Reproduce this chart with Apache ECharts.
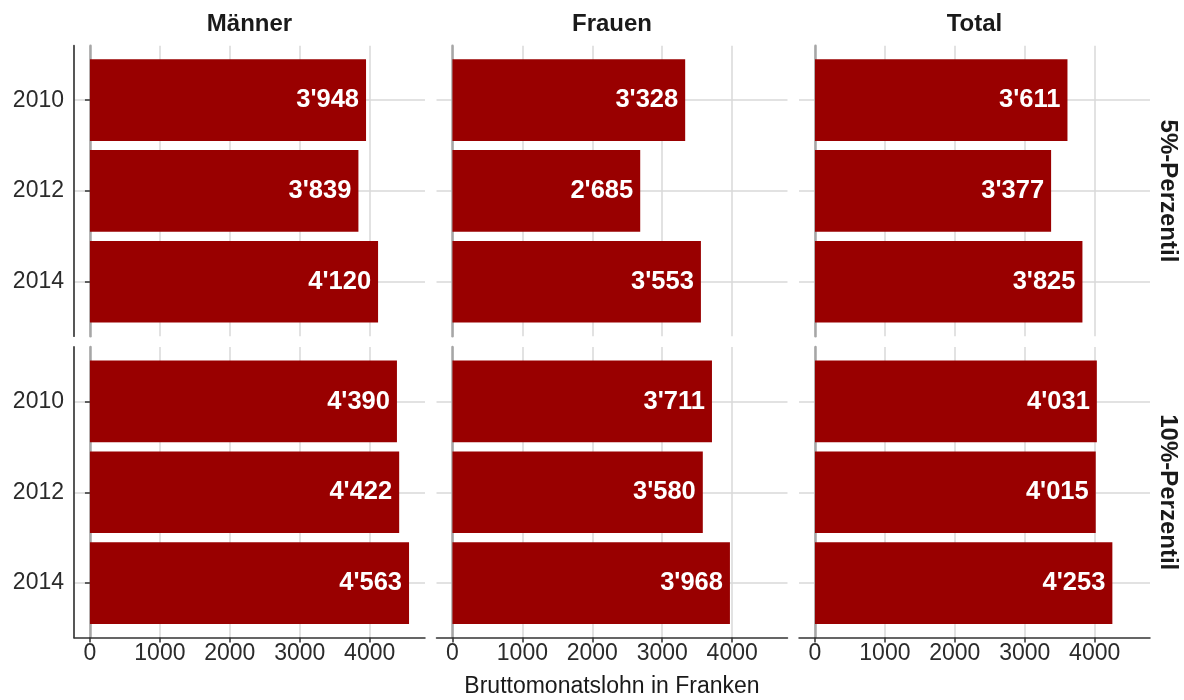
<!DOCTYPE html>
<html>
<head>
<meta charset="utf-8">
<script src="https://cdn.jsdelivr.net/npm/echarts@6/dist/echarts.min.js"></script>
<style>html,body{margin:0;padding:0;background:#fff}#c{width:1184px;height:700px}</style>
</head>
<body>
<div id="c"></div>
<script>
const years = ['2010', '2012', '2014'];
const columns = ['Männer', 'Frauen', 'Total'];
const rows = ['5%-Perzentil', '10%-Perzentil'];
const maenner5 = [3948, 3839, 4120];
const maenner10 = [4390, 4422, 4563];
const frauen5 = [3328, 2685, 3553];
const frauen10 = [3711, 3580, 3968];
const total5 = [3611, 3377, 3825];
const total10 = [4031, 4015, 4253];
const xTicks = [0, 1000, 2000, 3000, 4000];
const xTitle = 'Bruttomonatslohn in Franken';

const panelData = [
  [maenner5, frauen5, total5],
  [maenner10, frauen10, total10]
];

const FONT = '"Liberation Sans", Arial, sans-serif';
const allVals = [].concat(maenner5, maenner10, frauen5, frauen10, total5, total10);
const dMax = Math.max.apply(null, allVals);
const XMIN = -0.05 * dMax, XMAX = dMax * 1.05;

const colLeft = [74, 436.5, 799];
const colW = 351;
const rowTop = [45.7, 347];
const rowH = 290.5;
const band = rowH / 3.2;

const grid = [], xAxis = [], yAxis = [], series = [];
function fmt(v) {
  const t = Math.floor(v / 1000), r = String(v % 1000).padStart(3, '0');
  return t + "'" + r;
}
for (let r = 0; r < 2; r++) {
  for (let c = 0; c < 3; c++) {
    const p = r * 3 + c;
    grid.push({left: colLeft[c], top: rowTop[r], width: colW, height: rowH, containLabel: false, outerBoundsMode: 'none'});
    grid.push({left: colLeft[c], top: rowTop[r] + 0.1 * band, width: colW, height: 3 * band, containLabel: false, outerBoundsMode: 'none'});
    const bottom = r === 1;
    xAxis.push({
      type: 'value', gridIndex: 2 * p, min: XMIN, max: XMAX,
      axisLine: {show: bottom, onZero: false, lineStyle: {color: '#333', width: 1.5}},
      axisTick: {show: bottom, customValues: xTicks, length: 5, lineStyle: {color: '#333', width: 1.5}},
      axisLabel: {show: bottom, customValues: xTicks, fontSize: 23, color: '#2b2b2b', fontFamily: FONT, margin: 5, formatter: (v) => String(v)},
      splitLine: {show: true, lineStyle: {color: '#d9d9d9', width: 1.5}}
    });
    xAxis.push({type: 'value', gridIndex: 2 * p + 1, min: XMIN, max: XMAX, show: false});
    yAxis.push({
      type: 'value', gridIndex: 2 * p, min: 0, max: 1, position: 'left',
      axisLine: {show: c === 0, onZero: false, lineStyle: {color: '#444', width: 1.8}},
      axisTick: {show: false}, axisLabel: {show: false}, splitLine: {show: false}
    });
    yAxis.push({
      type: 'value', gridIndex: 2 * p, min: 0, max: 1,
      axisLine: {show: true, onZero: true, lineStyle: {color: '#a6a6a6', width: 2.5}},
      axisTick: {show: false}, axisLabel: {show: false}, splitLine: {show: false}
    });
    yAxis.push({
      type: 'category', gridIndex: 2 * p + 1, data: years, inverse: true,
      axisLine: {show: false},
      axisTick: {show: c === 0, alignWithLabel: true, length: 5, lineStyle: {color: '#333', width: 1.5}},
      axisLabel: {show: c === 0, fontSize: 23, color: '#2b2b2b', fontFamily: FONT, margin: 10},
      splitLine: {show: true, alignWithLabel: true, lineStyle: {color: '#d9d9d9', width: 1.5}}
    });
    series.push({
      type: 'bar', xAxisIndex: 2 * p + 1, yAxisIndex: 3 * p + 2,
      data: panelData[r][c], barCategoryGap: '10%',
      itemStyle: {color: '#990000'},
      label: {show: true, position: 'insideRight', distance: 7, color: '#fff', fontWeight: 'bold', fontSize: 25.5, fontFamily: FONT, formatter: (d) => fmt(d.value)}
    });
  }
}

const graphic = [];
columns.forEach((name, c) => {
  graphic.push({type: 'text', x: colLeft[c] + colW / 2, y: 24, style: {text: name, fontSize: 24, fontWeight: 'bold', fill: '#1a1a1a', fontFamily: FONT, textAlign: 'center', textVerticalAlign: 'middle'}});
});
rows.forEach((name, r) => {
  graphic.push({type: 'text', x: 1168, y: rowTop[r] + rowH / 2, rotation: -Math.PI / 2, style: {text: name, fontSize: 24, fontWeight: 'bold', fill: '#1a1a1a', fontFamily: FONT, textAlign: 'center', textVerticalAlign: 'middle'}});
});
graphic.push({type: 'text', x: colLeft[0] + (colLeft[2] + colW - colLeft[0]) / 2, y: 687, style: {text: xTitle, fontSize: 23, fill: '#1a1a1a', fontFamily: FONT, textAlign: 'center', textVerticalAlign: 'middle'}});

const chart = echarts.init(document.getElementById('c'), null, {renderer: 'canvas'});
chart.setOption({animation: false, backgroundColor: '#fff', grid, xAxis, yAxis, series, graphic});
</script>
</body>
</html>
